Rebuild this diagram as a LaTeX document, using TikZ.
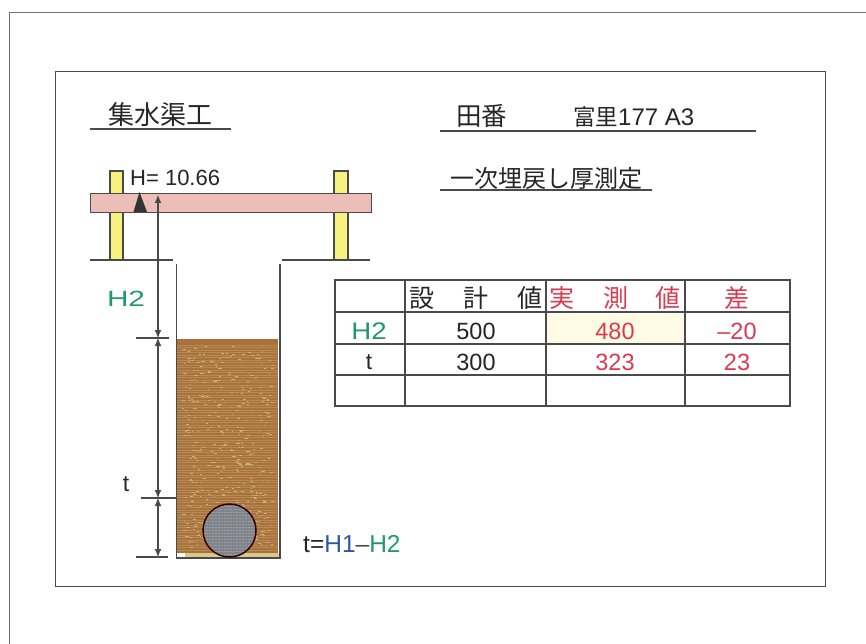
\documentclass[tikz,border=0pt]{standalone}
\usepackage{fontspec}
\setmainfont{Liberation Sans}
\newfontfamily\cjk{Noto Sans CJK JP}
\usetikzlibrary{arrows.meta}
\definecolor{lineC}{HTML}{4A4A4A}
\definecolor{greenC}{HTML}{1F9A68}
\definecolor{redC}{HTML}{DC3A50}
\definecolor{blueC}{HTML}{2F55A5}
\definecolor{pinkC}{HTML}{EDBDB8}
\definecolor{yellowC}{HTML}{F7F27E}
\definecolor{soilC}{HTML}{A9713C}
\definecolor{soilL}{HTML}{B58A55}
\definecolor{speckC}{HTML}{C9B07A}
\definecolor{baseC}{HTML}{D8C88C}
\definecolor{pipeC}{HTML}{80848C}
\definecolor{pipeL}{HTML}{9A9CA0}
\definecolor{cellC}{HTML}{FDFBE3}
\tikzset{
  x=1pt,y=-1pt,
  lab/.style={inner sep=0pt,text=black!85,font=\fontsize{#1}{#1}\selectfont},
  jp/.style={inner sep=0pt,text=black!85,font=\cjk\fontsize{#1}{#1}\selectfont},
  rule/.style={draw=lineC,line width=1.4pt},
  thin rule/.style={draw=lineC,line width=1.1pt},
  grid rule/.style={draw=lineC,line width=1.2pt},
  dim/.style={draw=lineC,line width=1.1pt},
  dimarrow/.style={dim,{Latex[length=8pt,width=7pt]}-{Latex[length=8pt,width=7pt]}},
}
\begin{document}
\begin{tikzpicture}
\useasboundingbox (0,0) rectangle (866,644);
\fill[white] (0,0) rectangle (866,644);
% outer frames
\draw[draw=black!55,line width=1pt] (866,13) -- (9,13) -- (9,644);
\draw[draw=lineC,line width=1pt] (55,72) rectangle (825,586);
% titles
\node[jp=26,anchor=west] (title) at (108,115) {集水渠工};
\draw[rule] (90,129) -- (231,129);
\node[jp=25.5,anchor=west] (field) at (456,116) {田番};
\node[jp=22.5,anchor=west] (place) at (573,117) {富里};
\node[lab=24,anchor=west] (placeno) at (618,117) {177 A3};
\draw[rule] (440,131) -- (756,131);
\node[jp=24,anchor=west] (sub) at (450,178) {一次埋戻し厚測定};
\draw[rule] (440,190) -- (652,190);
% posts and beam
\path[draw=lineC,fill=yellowC,line width=1.2pt] (110,171) rectangle (123,260);
\path[draw=lineC,fill=yellowC,line width=1.2pt] (334,171) rectangle (348,260);
\path[draw=lineC,fill=pinkC,line width=1pt] (90,194) rectangle (371,213);
\node[lab=22,anchor=west] (hval) at (130,178) {H= 10.66};
\fill[black!80] (139.5,192) -- (133.5,212) -- (147,212) -- cycle;
% ground
\draw[thin rule] (90,260) -- (173,260);
\draw[thin rule] (282,260) -- (370,260);
\draw[thin rule] (176.5,264) -- (176.5,558) -- (280,558) -- (280,264);
% soil
\fill[soilC] (177,339) rectangle (278,553);
\foreach \yy in {345,347.5,...,552}
  \draw[soilL,line width=0.5pt] (177,\yy) -- (278,\yy);
\pgfmathsetseed{177}
\foreach \k in {1,...,420}{
  \pgfmathsetmacro{\px}{rnd*90+182}
  \pgfmathsetmacro{\py}{rnd*205+345}
  \pgfmathsetmacro{\pl}{rnd*3+0.8}
  \draw[speckC,line width=0.6pt] (\px,\py) -- (\px+\pl,\py);
}
\fill[baseC] (185,553) rectangle (279,557);
\path[draw=black!60!red!50!black,line width=1.5pt,fill=pipeC] (229.5,530.5) circle (26.5);
\begin{scope}
\clip (229.5,530.5) circle (25.5);
\foreach \yy in {506,509,...,556}
  \draw[pipeL,line width=0.8pt,dash pattern=on 1.5pt off 1.5pt] (203,\yy) -- (256,\yy);
\end{scope}
% dimensions
\coordinate (d0) at (158,195);
\coordinate (d1) at (158,338);
\coordinate (d2) at (158,498);
\coordinate (d3) at (158,557);
\draw[dim] (136,338) -- (169,338);
\draw[dim] (141,498) -- (176,498);
\draw[dim] (136,557) -- (168,557);
\draw[dimarrow] (d0) -- (d1);
\draw[dimarrow] (d1) -- (d2);
\draw[dimarrow] (d2) -- (d3);
\node[lab=22,text=greenC,xscale=1.35] (h2lab) at (126,299) {H2};
\node[lab=23] (tlab) at (126,484) {t};
\node[lab=24.5,anchor=west] (eq) at (303,544) {t=\textcolor{blueC}{H1}\textcolor{lineC}{--}\textcolor{greenC}{H2}};
% table
\fill[cellC] (546,314) rectangle (685,344);
\draw[grid rule] (335,280) rectangle (790,406);
\draw[grid rule] (335,312) -- (790,312);
\draw[grid rule] (335,344) -- (790,344);
\draw[grid rule] (335,375) -- (790,375);
\draw[grid rule] (405,280) -- (405,406);
\draw[grid rule] (546,280) -- (546,406);
\draw[grid rule] (685,280) -- (685,406);
\node[jp=25] (s1) at (422,298) {設};
\node[jp=25] (s2) at (476,298) {計};
\node[jp=25] (s3) at (530,298) {値};
\node[jp=25,text=redC] (j1) at (562,298) {実};
\node[jp=25,text=redC] (j2) at (616,298) {測};
\node[jp=25,text=redC] (j3) at (668,298) {値};
\node[jp=25,text=redC] (diff) at (737,298) {差};
\node[lab=24,text=greenC,xscale=1.15] (r1) at (369,331) {H2};
\node[lab=23] (r2) at (369,362) {t};
\node[lab=23.5] (a1) at (476,331) {500};
\node[lab=23.5] (a2) at (476,362) {300};
\node[lab=23.5,text=redC] (b1) at (615,331) {480};
\node[lab=23.5,text=redC] (b2) at (615,362) {323};
\node[lab=23.5,text=redC] (c1) at (737,331) {--20};
\node[lab=23.5,text=redC] (c2) at (737,362) {23};
\end{tikzpicture}
\end{document}
